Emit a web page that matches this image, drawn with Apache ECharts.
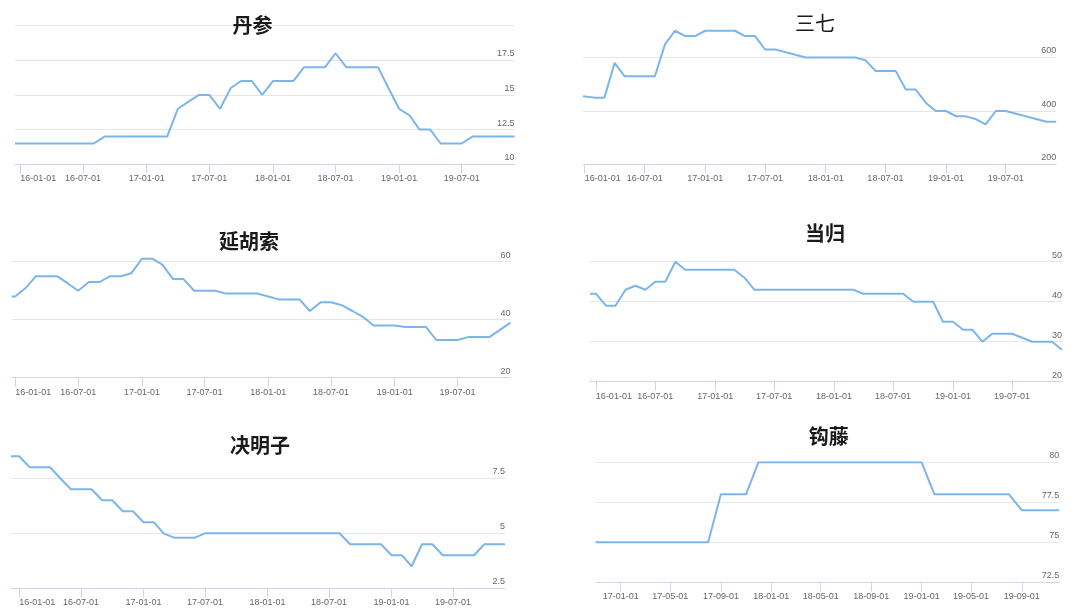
<!DOCTYPE html>
<html><head><meta charset="utf-8">
<script src="https://cdn.jsdelivr.net/npm/echarts@6/dist/echarts.min.js"></script>
<style>html,body{margin:0;padding:0;background:#fff}#c{width:1079px;height:612px}</style>
</head><body><div id="c"></div>
<script>
// ---------- data ----------
const titles = ['丹参', '三七', '延胡索', '当归', '决明子', '钩藤'];

const months = [
  '2016-01-01','2016-02-01','2016-03-01','2016-04-01','2016-05-01','2016-06-01','2016-07-01','2016-08-01','2016-09-01','2016-10-01','2016-11-01','2016-12-01',
  '2017-01-01','2017-02-01','2017-03-01','2017-04-01','2017-05-01','2017-06-01','2017-07-01','2017-08-01','2017-09-01','2017-10-01','2017-11-01','2017-12-01',
  '2018-01-01','2018-02-01','2018-03-01','2018-04-01','2018-05-01','2018-06-01','2018-07-01','2018-08-01','2018-09-01','2018-10-01','2018-11-01','2018-12-01',
  '2019-01-01','2019-02-01','2019-03-01','2019-04-01','2019-05-01','2019-06-01','2019-07-01','2019-08-01','2019-09-01','2019-10-01','2019-11-01','2019-12-01'
];
const monthsGouteng = [
  '2016-11-01','2016-12-01',
  '2017-01-01','2017-02-01','2017-03-01','2017-04-01','2017-05-01','2017-06-01','2017-07-01','2017-08-01','2017-09-01','2017-10-01','2017-11-01','2017-12-01',
  '2018-01-01','2018-02-01','2018-03-01','2018-04-01','2018-05-01','2018-06-01','2018-07-01','2018-08-01','2018-09-01','2018-10-01','2018-11-01','2018-12-01',
  '2019-01-01','2019-02-01','2019-03-01','2019-04-01','2019-05-01','2019-06-01','2019-07-01','2019-08-01','2019-09-01','2019-10-01','2019-11-01','2019-12-01'
];

// first (partial-month) observation date of each monthly series
const startDates = ['2015-12-17', '2015-12-27', '2015-12-22', '2015-12-14', '2015-12-08'];

// values: first value belongs to the start date, then one value per month
const danshen = [11.5,
  11.5,11.5,11.5,11.5,11.5,11.5,11.5,11.5,12,12,12,12,
  12,12,12,14,14.5,15,15,14,15.5,16,16,15,
  16,16,16,17,17,17,18,17,17,17,17,15.5,
  14,13.5,12.5,12.5,11.5,11.5,11.5,12,12,12,12,12];
const sanqi = [455,
  450,450,450,580,530,530,530,530,650,700,680,680,
  700,700,700,700,680,680,630,630,620,610,600,600,
  600,600,600,600,590,550,550,550,480,480,430,400,
  400,380,380,370,350,400,400,390,380,370,360,360];
const yanhusuo = [48,
  48,51,55,55,55,52.5,50,53,53,55,55,56,
  61,61,59,54,54,50,50,50,49,49,49,49,
  48,47,47,47,43,46,46,45,43,41,38,38,
  38,37.5,37.5,37.5,33,33,33,34,34,34,36.5,39];
const danggui = [42,
  42,39,39,43,44,43,45,45,50,48,48,48,
  48,48,48,46,43,43,43,43,43,43,43,43,
  43,43,43,42,42,42,42,42,40,40,40,35,
  35,33,33,30,32,32,32,31,30,30,30,28];
const juemingzi = [8.5,
  8.5,8,8,8,7.5,7,7,7,6.5,6.5,6,6,
  5.5,5.5,5,4.8,4.8,4.8,5,5,5,5,5,5,
  5,5,5,5,5,5,5,5,4.5,4.5,4.5,4.5,
  4,4,3.5,4.5,4.5,4,4,4,4,4.5,4.5,4.5];
const gouteng = [75,75,
  75,75,75,75,75,75,75,75,78,78,78,80,
  80,80,80,80,80,80,80,80,80,80,80,80,
  80,78,78,78,78,78,78,78,77,77,77,77];

const ticksHalfYear = ['2016-01-01','2016-07-01','2017-01-01','2017-07-01','2018-01-01','2018-07-01','2019-01-01','2019-07-01'];
const ticksGouteng = ['2017-01-01','2017-05-01','2017-09-01','2018-01-01','2018-05-01','2018-09-01','2019-01-01','2019-05-01','2019-09-01'];

// y-axis ranges
const yMin = [10, 200, 20, 20, 2.5, 72.5];
const yMax = [20, 800, 80, 50, 10, 80];
const yStep = [2.5, 200, 20, 10, 2.5, 2.5];
const yShowMaxLabel = [false, false, false, true, false, true];
const yShowMaxLine = [true, false, false, true, false, true];

// ---------- layout ----------
const layout = [
  {left: 15,    top: 25.5,  width: 499.6, height: 138.8, tx: 252.5, ty: 25,    bold: true,  alignFirst: 'left'},
  {left: 583,   top: 4,     width: 473.2, height: 160.5, tx: 815,   ty: 23.3,  bold: false, alignFirst: 'left'},
  {left: 11.7,  top: 203.7, width: 498.7, height: 174,   tx: 249,   ty: 241.7, bold: true,  alignFirst: 'left'},
  {left: 590,   top: 261.7, width: 471.9, height: 120,   tx: 825,   ty: 233.3, bold: true,  alignFirst: 'left'},
  {left: 11,    top: 423.3, width: 494,   height: 165,   tx: 260,   ty: 445,   bold: true,  alignFirst: 'left'},
  {left: 595.6, top: 462.3, width: 463.7, height: 120,   tx: 828.7, ty: 436.7, bold: true,  alignFirst: 'center'}
];

// pick a condensed label font if one is installed
function hasFont(name) {
  const c = document.createElement('canvas').getContext('2d');
  const t = '16-01-01 17.5 abcdefgh';
  let diff = false;
  ['monospace', 'serif'].forEach(fb => {
    c.font = '20px ' + fb; const a = c.measureText(t).width;
    c.font = '20px "' + name + '", ' + fb; const b = c.measureText(t).width;
    if (Math.abs(a - b) > 0.01) diff = true;
  });
  return diff;
}
let labelFont = '"Liberation Sans", Arial, sans-serif', labelSize = 9;
if (hasFont('Liberation Sans Narrow')) { labelFont = '"Liberation Sans Narrow", sans-serif'; labelSize = 11; }

const ms = s => { const p = s.split('-').map(Number); return new Date(p[0], p[1] - 1, p[2]).getTime(); };
const pad = n => (n < 10 ? '0' : '') + n;
const fmt = v => { const d = new Date(v); return pad(d.getFullYear() % 100) + '-' + pad(d.getMonth() + 1) + '-' + pad(d.getDate()); };

const seriesVals = [danshen, sanqi, yanhusuo, danggui, juemingzi];
const seriesData = seriesVals.map((vals, k) =>
  [[ms(startDates[k]), vals[0]]].concat(months.map((m, i) => [ms(m), vals[i + 1]])));
seriesData.push(monthsGouteng.map((m, i) => [ms(m), gouteng[i]]));

const option = {
  animation: false,
  backgroundColor: '#fff',
  title: layout.map((L, i) => ({
    text: titles[i], left: L.tx, top: L.ty, textAlign: 'center', textVerticalAlign: 'middle', padding: 0,
    textStyle: {fontSize: 20, fontWeight: L.bold ? 'bold' : 'normal', color: '#1a1a1a', fontFamily: '"Noto Sans CJK SC", sans-serif'}
  })),
  grid: layout.map(L => ({left: L.left, top: L.top, width: L.width, height: L.height, containLabel: false, outerBoundsMode: 'none'})),
  xAxis: layout.map((L, i) => {
    const ticks = (i === 5 ? ticksGouteng : ticksHalfYear).map(ms);
    const d = seriesData[i];
    return {
      type: 'value', gridIndex: i, min: d[0][0], max: d[d.length - 1][0], scale: true,
      axisLine: {show: true, onZero: false, lineStyle: {color: '#ccd6eb', width: 1}},
      axisTick: {show: true, length: 9, lineStyle: {color: '#ccd6eb'}, customValues: ticks},
      axisLabel: {customValues: ticks, formatter: fmt, margin: 10, color: '#666', fontSize: labelSize, fontFamily: labelFont,
        alignMinLabel: L.alignFirst === 'left' ? 'left' : null, hideOverlap: false},
      splitLine: {show: false}, minorTick: {show: false}
    };
  }),
  yAxis: layout.map((L, i) => ({
    type: 'value', gridIndex: i, position: 'right', min: yMin[i], max: yMax[i], interval: yStep[i],
    axisLine: {show: false}, axisTick: {show: false},
    splitLine: {show: true, showMaxLine: yShowMaxLine[i], lineStyle: {color: '#e6e6e6', width: 1}},
    axisLabel: {inside: true, margin: 0, verticalAlign: 'bottom', padding: [0, 0, 2, 0], showMaxLabel: yShowMaxLabel[i],
      color: '#666', fontSize: labelSize, fontFamily: labelFont}
  })),
  series: seriesData.map((d, i) => ({
    type: 'line', xAxisIndex: i, yAxisIndex: i, data: d, showSymbol: false, symbol: 'none',
    lineStyle: {color: '#7cb5ec', width: 2}, itemStyle: {color: '#7cb5ec'}
  }))
};

const chart = echarts.init(document.getElementById('c'), null, {renderer: 'canvas'});
chart.setOption(option);
</script>
</body></html>
